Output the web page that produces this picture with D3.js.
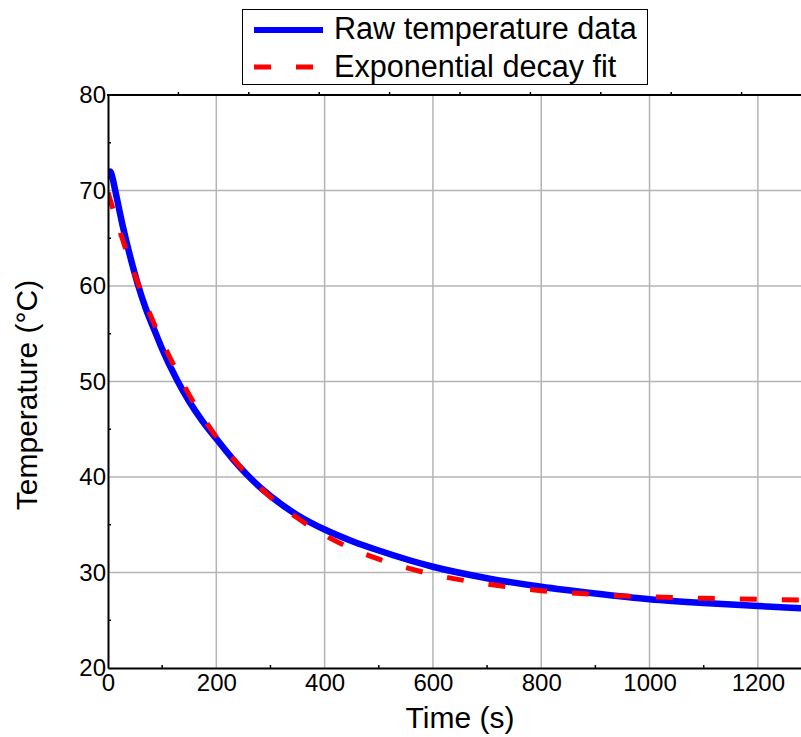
<!DOCTYPE html>
<html lang="en">
<head>
    <meta charset="UTF-8">
    <title>Temperature decay</title>
    <style>
        body { margin: 0; background: #fff; }
        svg { display: block; font-family: "Liberation Sans", Arial, sans-serif; }
        .grid line { stroke: #b4b4b4; stroke-width: 1.5px; }
        .axis path, .axis line { stroke: #000; }
        .tick text { font-size: 24px; fill: #000; }
    </style>
    <script src="https://d3js.org/d3.v7.min.js"></script>
</head>
<body>
    <div id="chart"></div>
    <script>
        const rawTime = [0, 4, 8, 13, 20, 26, 33, 40, 55, 70, 87, 100, 127, 150, 175, 200, 230, 259, 300, 350, 400, 450, 500, 600, 700, 800, 900, 1000, 1100, 1200, 1300];
        const rawTemp = [71.5, 72.0, 71.4, 70.1, 68.2, 66.6, 64.9, 63.3, 60.2, 57.6, 55.2, 53.4, 50.2, 47.9, 45.8, 44.0, 41.9, 40.1, 38.0, 36.0, 34.5, 33.3, 32.3, 30.6, 29.4, 28.5, 27.8, 27.2, 26.8, 26.5, 26.2];

        // exponential fit curve
        const fitTime = [0, 25, 50, 75, 100, 125, 150, 175, 200, 250, 300, 350, 400, 450, 500, 600, 700, 800, 900, 1000, 1100, 1200, 1300];
        const fitTemp = [69.8, 65.2, 61.1, 57.4, 54.2, 51.3, 48.6, 46.3, 44.2, 40.7, 37.9, 35.7, 33.9, 32.5, 31.4, 29.8, 28.8, 28.1, 27.7, 27.45, 27.3, 27.2, 27.1];

        const xTicks = [0, 200, 400, 600, 800, 1000, 1200];
        const yTicks = [20, 30, 40, 50, 60, 70, 80];
        const seriesNames = ["Raw temperature data", "Exponential decay fit"];

        const width = 801, height = 737;
        const plotLeft = 108, plotTop = 95, plotRight = 812, plotBottom = 668;

        const x = d3.scaleLinear().domain([0, 1300]).range([plotLeft, plotRight]);
        const y = d3.scaleLinear().domain([20, 80]).range([plotBottom, plotTop]);

        const svg = d3.select("#chart").append("svg")
            .attr("width", width)
            .attr("height", height);

        svg.append("defs").append("clipPath").attr("id", "plotClip")
            .append("rect")
            .attr("x", plotLeft).attr("y", plotTop)
            .attr("width", plotRight - plotLeft).attr("height", plotBottom - plotTop);

        // grid
        const grid = svg.append("g").attr("class", "grid");
        grid.selectAll(".vx").data(xTicks.slice(1)).enter().append("line")
            .attr("x1", d => x(d)).attr("x2", d => x(d))
            .attr("y1", plotTop).attr("y2", plotBottom);
        grid.selectAll(".hy").data(yTicks.slice(1, -1)).enter().append("line")
            .attr("x1", plotLeft).attr("x2", plotRight)
            .attr("y1", d => y(d)).attr("y2", d => y(d));

        // lines
        const line = d3.line().curve(d3.curveMonotoneX);
        const plot = svg.append("g").attr("clip-path", "url(#plotClip)");

        plot.append("path")
            .attr("d", line(rawTime.map((t, i) => [x(t), y(rawTemp[i])])))
            .attr("fill", "none")
            .attr("stroke", "#0000ff")
            .attr("stroke-width", 6.5)
            .attr("stroke-linecap", "round");

        plot.append("path")
            .attr("d", line(fitTime.map((t, i) => [x(t), y(fitTemp[i])])))
            .attr("fill", "none")
            .attr("stroke", "#ff0000")
            .attr("stroke-width", 5)
            .attr("stroke-dasharray", "17,25");

        // axes
        const xAxis = svg.append("g").attr("class", "axis")
            .attr("transform", `translate(0,${plotBottom})`)
            .call(d3.axisBottom(x).tickValues(xTicks).tickFormat(d3.format("d")).tickSize(0).tickPadding(6));
        xAxis.select(".domain").attr("stroke-width", 2);
        xAxis.selectAll(".tick text").attr("dy", "0.71em");

        const yAxis = svg.append("g").attr("class", "axis")
            .attr("transform", `translate(${plotLeft},0)`)
            .call(d3.axisLeft(y).tickValues(yTicks).tickFormat(d3.format("d")).tickSize(0).tickPadding(2));
        yAxis.select(".domain").attr("stroke-width", 2);

        // minor ticks, pointing inward
        const xMinor = d3.range(100, 1300, 200);
        svg.append("g").selectAll("line").data(xMinor).enter().append("line")
            .attr("x1", d => x(d)).attr("x2", d => x(d))
            .attr("y1", plotBottom).attr("y2", plotBottom - 3)
            .attr("stroke", "#000").attr("stroke-width", 1.5);
        const yMinor = d3.range(25, 80, 10);
        svg.append("g").selectAll("line").data(yMinor).enter().append("line")
            .attr("x1", plotLeft).attr("x2", plotLeft + 3)
            .attr("y1", d => y(d)).attr("y2", d => y(d))
            .attr("stroke", "#000").attr("stroke-width", 1.5);

        // top border with its own small ticks
        svg.append("line")
            .attr("x1", plotLeft - 1).attr("x2", plotRight)
            .attr("y1", plotTop).attr("y2", plotTop)
            .attr("stroke", "#000").attr("stroke-width", 2);
        const topScale = d3.scaleLinear().domain([0, 10]).range([plotLeft, plotRight]);
        svg.append("g").selectAll("line").data(d3.range(1, 10)).enter().append("line")
            .attr("x1", d => topScale(d)).attr("x2", d => topScale(d))
            .attr("y1", plotTop).attr("y2", plotTop - 3)
            .attr("stroke", "#000").attr("stroke-width", 1.5);

        // axis titles
        svg.append("text")
            .attr("x", 460).attr("y", 728)
            .attr("text-anchor", "middle")
            .attr("font-size", 30)
            .text("Time (s)");

        svg.append("text")
            .attr("transform", "translate(37,395) rotate(-90)")
            .attr("text-anchor", "middle")
            .attr("font-size", 30)
            .text("Temperature (°C)");

        // legend
        const legend = svg.append("g");
        legend.append("rect")
            .attr("x", 242.5).attr("y", 9.5)
            .attr("width", 405).attr("height", 75)
            .attr("fill", "#fff").attr("stroke", "#000").attr("stroke-width", 1);
        legend.append("line")
            .attr("x1", 254).attr("x2", 323).attr("y1", 30).attr("y2", 30)
            .attr("stroke", "#0000ff").attr("stroke-width", 6);
        legend.append("line")
            .attr("x1", 254).attr("x2", 318).attr("y1", 67).attr("y2", 67)
            .attr("stroke", "#ff0000").attr("stroke-width", 5)
            .attr("stroke-dasharray", "17,25");
        legend.selectAll("text").data(seriesNames).enter().append("text")
            .attr("x", 334)
            .attr("y", (d, i) => i === 0 ? 39 : 77)
            .attr("font-size", 30.6)
            .text(d => d);
    </script>
</body>
</html>
